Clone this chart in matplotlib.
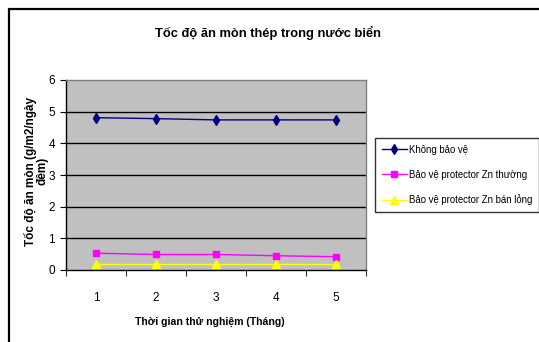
import matplotlib
matplotlib.use("Agg")
import matplotlib.pyplot as plt
from matplotlib.patches import Rectangle

plt.rcParams['font.family'] = ['Liberation Sans', 'DejaVu Sans']

months = [1, 2, 3, 4, 5]
khong_bao_ve = [4.81, 4.78, 4.74, 4.74, 4.74]
zn_thuong = [0.53, 0.49, 0.49, 0.45, 0.42]
zn_ban_long = [0.18, 0.18, 0.18, 0.18, 0.18]
series_names = ["Không bảo vệ", "Bảo vệ protector Zn thường", "Bảo vệ protector Zn bán lỏng"]
title = "Tốc độ ăn mòn thép trong nước biển"
xlabel = "Thời gian thử nghiệm (Tháng)"
ylabel = "Tốc độ ăn mòn (g/m2/ngày\nđêm)"

W, H = 539, 342
fig = plt.figure(figsize=(W / 100, H / 100), dpi=100)

# outer chart frame
fig.patches.append(Rectangle((8.5 / W, -0.1), 1.2, (H - 8.5) / H + 0.1,
                             transform=fig.transFigure, fill=False,
                             edgecolor='black', linewidth=1.6))

ax = fig.add_axes([66 / W, 1 - 270 / H, 300 / W, 190 / H])
ax.set_facecolor('#C0C0C0')
ax.plot(months, khong_bao_ve, color='#000080', marker='d', markersize=5, linewidth=1, label=series_names[0])
ax.plot(months, zn_thuong, color='#FF00FF', marker='s', markersize=5, linewidth=1, label=series_names[1])
ax.plot(months, zn_ban_long, color='#FFFF00', marker='^', markersize=5.5, linewidth=1, label=series_names[2])

ax.set_xlim(0.5, 5.5)
ax.set_ylim(0, 6)
ax.set_yticks(range(0, 7))
ax.set_xticks(months)
ax.set_xticks([0.5, 1.5, 2.5, 3.5, 4.5, 5.5], minor=True)
ax.tick_params(axis='x', which='major', length=0, pad=16, labelsize=8.5)
ax.tick_params(axis='x', which='minor', length=4, direction='out', color='black')
ax.tick_params(axis='y', which='major', length=4, direction='out', labelsize=8.5, pad=4)
for y in range(1, 6):
    ax.axhline(y, color='black', linewidth=1, zorder=1)
for s in ['top', 'right']:
    ax.spines[s].set_color('#808080')
    ax.spines[s].set_linewidth(1)
for s in ['left', 'bottom']:
    ax.spines[s].set_color('black')
    ax.spines[s].set_linewidth(1)

fig.text(268 / W, 1 - 33 / H, title, ha='center', va='center', fontsize=9.3, fontweight='bold')
fig.text(210 / W, 1 - 322 / H, xlabel, ha='center', va='center', fontsize=7.6, fontweight='bold')
fig.text(36 / W, 1 - 171 / H, ylabel, ha='center', va='center', rotation=90,
         fontsize=8.5, fontweight='bold', linespacing=1.0)

leg = fig.legend(loc='upper left', bbox_to_anchor=(375 / W, 1 - 138 / H),
                 frameon=True, fancybox=False, shadow=False, fontsize=6.9,
                 handlelength=2.6, handletextpad=0.2, borderpad=0.7,
                 labelspacing=1.55, borderaxespad=0)
leg.get_frame().set_edgecolor('black')
leg.get_frame().set_linewidth(1)

fig.savefig('out.png', dpi=100)
